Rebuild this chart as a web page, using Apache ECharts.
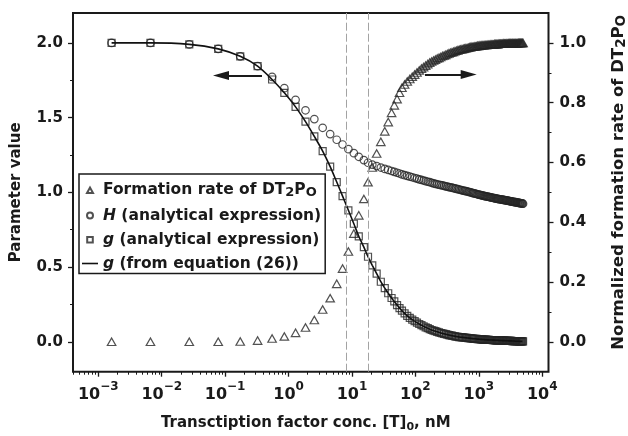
<!DOCTYPE html>
<html>
<head>
<meta charset="utf-8">
<script src="https://cdn.jsdelivr.net/npm/echarts@6/dist/echarts.min.js"></script>
<style>
  html, body { margin: 0; padding: 0; background: #ffffff; }
  #chart { width: 628px; height: 436px; }
</style>
</head>
<body>
<div id="chart"></div>
<script>
// Transcription factor concentration [T]0 (nM) for each computed point
const concentration = [
  0.00162, 0.00664, 0.0272, 0.0778, 0.173, 0.325, 0.550, 0.858, 1.29, 1.85,
  2.55, 3.45, 4.53, 5.75, 7.11, 8.78, 10.7, 12.8, 15.4, 17.9,
  20.9, 24.5, 28.5, 32.9, 37.3, 42.1, 46.5, 51.4, 56.2, 61.4,
  67.6, 74.4, 81.6, 89.2, 97.3, 105.9, 115.0, 124.6, 134.7, 145.3,
  156.5, 168.2, 180.5, 193.4, 206.9, 221.0, 235.7, 251.0, 267.1, 283.8,
  301.1, 319.2, 338.0, 357.4, 377.7, 398.6, 420.4, 442.9, 466.2, 490.3,
  515.2, 541.0, 567.6, 595.1, 623.4, 652.6, 682.7, 713.8, 745.7, 778.6,
  812.5, 847.3, 883.1, 919.9, 957.7, 996.5, 1036, 1077, 1119, 1162,
  1206, 1252, 1298, 1345, 1394, 1444, 1495, 1547, 1600, 1655,
  1711, 1768, 1826, 1885, 1946, 2008, 2072, 2137, 2203, 2270,
  2339, 2409, 2480, 2553, 2628, 2704, 2781, 2860, 2940, 3021,
  3105, 3189, 3275, 3363, 3452, 3543, 3636, 3730, 3825, 3923,
  4021, 4122, 4224, 4328, 4434, 4541, 4650, 4761, 4873, 4987
];

// Normalized formation rate of DT2PO (right axis)
const formationRate = [
  0, 0, 0, 0, 0.001, 0.004, 0.011, 0.018, 0.030, 0.048,
  0.073, 0.108, 0.146, 0.194, 0.245, 0.302, 0.362, 0.423, 0.478, 0.534,
  0.583, 0.630, 0.669, 0.704, 0.735, 0.766, 0.791, 0.812, 0.833, 0.850,
  0.861, 0.871, 0.879, 0.887, 0.894, 0.901, 0.908, 0.914, 0.919, 0.924,
  0.929, 0.934, 0.938, 0.941, 0.944, 0.948, 0.950, 0.953, 0.956, 0.958,
  0.960, 0.963, 0.965, 0.967, 0.969, 0.970, 0.972, 0.974, 0.975, 0.977,
  0.978, 0.979, 0.980, 0.981, 0.982, 0.983, 0.984, 0.985, 0.986, 0.987,
  0.987, 0.988, 0.988, 0.989, 0.990, 0.990, 0.991, 0.991, 0.992, 0.992,
  0.992, 0.993, 0.993, 0.993, 0.994, 0.994, 0.994, 0.995, 0.995, 0.995,
  0.995, 0.996, 0.996, 0.996, 0.996, 0.996, 0.997, 0.997, 0.997, 0.997,
  0.997, 0.998, 0.998, 0.998, 0.998, 0.998, 0.998, 0.998, 0.999, 0.999,
  0.999, 0.999, 0.999, 0.999, 0.999, 0.999, 0.999, 0.999, 0.999, 0.999,
  0.999, 0.999, 1.000, 1.000, 1.000, 1.000, 1.000, 1.000, 1.000, 1.000
];

// H from the analytical expression (left axis)
const hAnalytical = [
  2.000, 2.000, 1.990, 1.960, 1.910, 1.844, 1.773, 1.697, 1.619, 1.549,
  1.490, 1.432, 1.390, 1.352, 1.320, 1.289, 1.262, 1.238, 1.216, 1.198,
  1.186, 1.176, 1.166, 1.157, 1.150, 1.143, 1.137, 1.131, 1.126, 1.120,
  1.115, 1.110, 1.105, 1.101, 1.096, 1.092, 1.087, 1.083, 1.079, 1.075,
  1.071, 1.068, 1.064, 1.060, 1.057, 1.054, 1.051, 1.048, 1.046, 1.043,
  1.040, 1.038, 1.035, 1.033, 1.031, 1.028, 1.026, 1.023, 1.021, 1.019,
  1.017, 1.014, 1.012, 1.010, 1.008, 1.006, 1.004, 1.002, 1.000, 0.997,
  0.995, 0.993, 0.991, 0.989, 0.987, 0.985, 0.983, 0.982, 0.980, 0.978,
  0.976, 0.975, 0.973, 0.972, 0.971, 0.969, 0.968, 0.966, 0.965, 0.964,
  0.962, 0.961, 0.960, 0.958, 0.957, 0.956, 0.955, 0.954, 0.953, 0.952,
  0.951, 0.950, 0.949, 0.948, 0.947, 0.946, 0.945, 0.944, 0.943, 0.942,
  0.941, 0.940, 0.939, 0.938, 0.937, 0.936, 0.935, 0.934, 0.934, 0.933,
  0.932, 0.931, 0.930, 0.929, 0.928, 0.928, 0.927, 0.926, 0.925, 0.924
];

// g from the analytical expression (left axis); the equation (26) curve follows the same values
const gAnalytical = [
  2.000, 2.000, 1.990, 1.960, 1.910, 1.844, 1.755, 1.666, 1.572, 1.473,
  1.374, 1.276, 1.172, 1.069, 0.975, 0.880, 0.790, 0.706, 0.633, 0.569,
  0.512, 0.456, 0.402, 0.359, 0.325, 0.293, 0.270, 0.246, 0.226, 0.208,
  0.190, 0.174, 0.160, 0.148, 0.138, 0.128, 0.119, 0.111, 0.104, 0.097,
  0.091, 0.085, 0.079, 0.075, 0.071, 0.067, 0.063, 0.059, 0.056, 0.053,
  0.051, 0.048, 0.045, 0.043, 0.041, 0.039, 0.037, 0.035, 0.034, 0.032,
  0.031, 0.030, 0.029, 0.028, 0.027, 0.026, 0.025, 0.024, 0.023, 0.022,
  0.021, 0.020, 0.020, 0.019, 0.018, 0.018, 0.017, 0.016, 0.016, 0.015,
  0.015, 0.014, 0.014, 0.013, 0.013, 0.013, 0.012, 0.012, 0.012, 0.011,
  0.011, 0.011, 0.010, 0.010, 0.010, 0.010, 0.009, 0.009, 0.009, 0.009,
  0.008, 0.008, 0.008, 0.008, 0.007, 0.007, 0.007, 0.007, 0.006, 0.006,
  0.006, 0.006, 0.006, 0.005, 0.005, 0.005, 0.005, 0.005, 0.004, 0.004,
  0.004, 0.004, 0.004, 0.003, 0.003, 0.003, 0.003, 0.003, 0.003, 0.003
];

// Axis ranges and tick values
const xRange = [0.000399, 12560];
const xTickValues = [0.001, 0.01, 0.1, 1, 10, 100, 1000, 10000];
const leftRange = [-0.2, 2.2];
const leftTickValues = [0, 0.5, 1.0, 1.5, 2.0];
const leftMinorTickValues = [0.25, 0.75, 1.25, 1.75];
const rightRange = [-0.1, 1.1];
const rightTickValues = [0, 0.2, 0.4, 0.6, 0.8, 1.0];
const rightMinorTickValues = [0.1, 0.3, 0.5, 0.7, 0.9];

// Dashed guide concentrations and the two direction arrows ([conc, value] pairs;
// the second pair is where the arrow head is centred)
const guideConc = [8.0, 17.8];
const leftArrow = [[0.381, 1.782], [0.086, 1.782]];
const rightArrow = [[141.6, 0.894], [692, 0.894]];

// Minor log ticks at 2..9 x 10^n inside the visible range
const xMinorTickValues = [];
for (let n = -4; n <= 4; n++) {
  for (let k = 2; k <= 9; k++) {
    const v = k * Math.pow(10, n);
    if (v > xRange[0] && v < xRange[1]) xMinorTickValues.push(v);
  }
}

const FONT = 'DejaVu Sans';
const INK = '#1a1a1a';
const MARK = '#262626';

const pairs = (ys) => concentration.map((c, i) => [c, ys[i]]);

const hollow = { color: 'rgba(255,255,255,0)', borderColor: MARK, borderWidth: 1.2 };

// Legend glyphs sit centred in a 16x6 box so that every entry's text lines up
const ICON_BOX = 'M0,0M16,6';
const legendIcons = {
  triangle: 'path://' + ICON_BOX + 'M5,6L8,0.6L11,6Z',
  circle: 'path://' + ICON_BOX + 'M11,3A3,3,0,1,1,5,3A3,3,0,1,1,11,3Z',
  square: 'path://' + ICON_BOX + 'M5.2,0.4L10.8,0.4L10.8,6L5.2,6Z',
  line: 'path://' + ICON_BOX + 'M0,2.2L16,2.2L16,3.8L0,3.8Z'
};

const supLabel = (v) => {
  const e = Math.round(Math.log10(v));
  return '{b|10}{sup|' + (e < 0 ? '\u2212' + (-e) : String(e)) + '}';
};

const chart = echarts.init(document.getElementById('chart'), null, { renderer: 'canvas' });

chart.setOption({
  animation: false,
  backgroundColor: '#ffffff',
  grid: {
    left: 73, top: 13, right: 79.5, bottom: 64.3,
    containLabel: false, outerBoundsMode: 'none',
    show: true, borderColor: INK, borderWidth: 2, backgroundColor: 'rgba(0,0,0,0)'
  },
  legend: {
    orient: 'vertical',
    left: 79, top: 174,
    padding: [8, 4, 2, 2],
    itemGap: 8,
    itemWidth: 16, itemHeight: 6,
    borderColor: INK, borderWidth: 1.5,
    selectedMode: false,
    data: [
      { name: 'Formation rate of DT2PO', icon: legendIcons.triangle },
      { name: 'H (analytical expression)', icon: legendIcons.circle },
      { name: 'g (analytical expression)', icon: legendIcons.square },
      { name: 'g (from equation (26))', icon: legendIcons.line }
    ],
    formatter: (name) => {
      if (name === 'Formation rate of DT2PO') return '{t|Formation rate of DT}{sub|2}{t|P}{sub|O}';
      if (name === 'H (analytical expression)') return '{i|H}{t| (analytical expression)}';
      if (name === 'g (analytical expression)') return '{i|g}{t| (analytical expression)}';
      return '{i|g}{t| (from equation (26))}';
    },
    textStyle: {
      fontFamily: FONT, fontSize: 15.5, fontWeight: 'bold', color: INK,
      rich: {
        t: { fontFamily: FONT, fontSize: 15.5, fontWeight: 'bold', color: INK, lineHeight: 19 },
        i: { fontFamily: FONT, fontSize: 15.5, fontWeight: 'bold', fontStyle: 'italic', color: INK, lineHeight: 19 },
        sub: { fontFamily: FONT, fontSize: 13, fontWeight: 'bold', color: INK, verticalAlign: 'bottom' }
      }
    }
  },
  xAxis: [
    {
      type: 'log', min: xRange[0], max: xRange[1], position: 'bottom',
      axisLine: { show: false, onZero: false },
      splitLine: { show: false },
      axisTick: { show: true, customValues: xTickValues, length: 5, lineStyle: { color: INK, width: 1.3 } },
      axisLabel: {
        customValues: xTickValues, margin: 9,
        formatter: supLabel,
        rich: {
          b: { fontFamily: FONT, fontSize: 16, fontWeight: 'bold', color: INK, lineHeight: 22, verticalAlign: 'bottom' },
          sup: { fontFamily: FONT, fontSize: 12, fontWeight: 'bold', color: INK, verticalAlign: 'top' }
        }
      },
      name: 'Transctiption factor conc. [T]{sub|0}, nM',
      nameLocation: 'middle', nameGap: 41,
      nameTextStyle: {
        fontFamily: FONT, fontSize: 15, fontWeight: 'bold', color: INK, lineHeight: 20,
        padding: [0, 10, 0, 0],
        rich: { sub: { fontFamily: FONT, fontSize: 11, fontWeight: 'bold', color: INK, verticalAlign: 'bottom' } }
      }
    },
    {
      type: 'log', min: xRange[0], max: xRange[1], position: 'bottom',
      axisLine: { show: false, onZero: false },
      splitLine: { show: false },
      axisLabel: { show: false },
      axisTick: { show: true, customValues: xMinorTickValues, length: 3, lineStyle: { color: INK, width: 1 } }
    }
  ],
  yAxis: [
    {
      type: 'value', min: leftRange[0], max: leftRange[1], position: 'left',
      axisLine: { show: false, onZero: false }, splitLine: { show: false },
      axisTick: { show: true, customValues: leftTickValues, length: 5, lineStyle: { color: INK, width: 1.3 } },
      axisLabel: {
        customValues: leftTickValues, margin: 10,
        fontFamily: FONT, fontSize: 15, fontWeight: 'bold', color: INK,
        formatter: (v) => v.toFixed(1)
      },
      name: 'Parameter value', nameLocation: 'middle', nameGap: 49,
      nameTextStyle: { fontFamily: FONT, fontSize: 15, fontWeight: 'bold', color: INK }
    },
    {
      type: 'value', min: leftRange[0], max: leftRange[1], position: 'left',
      axisLine: { show: false, onZero: false }, splitLine: { show: false }, axisLabel: { show: false },
      axisTick: { show: true, customValues: leftMinorTickValues, length: 3, lineStyle: { color: INK, width: 1 } }
    },
    {
      type: 'value', min: rightRange[0], max: rightRange[1], position: 'right',
      axisLine: { show: false, onZero: false }, splitLine: { show: false },
      axisTick: { show: true, customValues: rightTickValues, length: 5, lineStyle: { color: INK, width: 1.3 } },
      axisLabel: {
        customValues: rightTickValues, margin: 11,
        fontFamily: FONT, fontSize: 15, fontWeight: 'bold', color: INK,
        formatter: (v) => v.toFixed(1)
      },
      name: 'Normalized formation rate of DT{sub|2}P{sub|O}', nameLocation: 'middle', nameGap: 60,
      nameTextStyle: {
        fontFamily: FONT, fontSize: 16.5, fontWeight: 'bold', color: INK, lineHeight: 20,
        padding: [0, 0, 0, 20],
        rich: { sub: { fontFamily: FONT, fontSize: 13.5, fontWeight: 'bold', color: INK, verticalAlign: 'bottom' } }
      }
    },
    {
      type: 'value', min: rightRange[0], max: rightRange[1], position: 'right',
      axisLine: { show: false, onZero: false }, splitLine: { show: false }, axisLabel: { show: false },
      axisTick: { show: true, customValues: rightMinorTickValues, length: 3, lineStyle: { color: INK, width: 1 } }
    }
  ],
  series: [
    {
      name: 'Formation rate of DT2PO', type: 'scatter', xAxisIndex: 0, yAxisIndex: 2,
      symbol: 'triangle', symbolSize: [8.5, 7.5], itemStyle: hollow, silent: true,
      data: pairs(formationRate),
      markLine: {
        silent: true, animation: false,
        label: { show: false },
        lineStyle: { color: INK, width: 2, type: 'solid' },
        data: [[
          { coord: rightArrow[0], symbol: 'none' },
          { coord: rightArrow[1], symbol: 'triangle', symbolSize: [9, 16] }
        ]]
      }
    },
    {
      name: 'H (analytical expression)', type: 'scatter', xAxisIndex: 0, yAxisIndex: 0,
      symbol: 'circle', symbolSize: 7.5, itemStyle: hollow, silent: true,
      data: pairs(hAnalytical),
      markLine: {
        silent: true, animation: false,
        label: { show: false },
        lineStyle: { color: INK, width: 2, type: 'solid' },
        data: [[
          { coord: leftArrow[0], symbol: 'none' },
          { coord: leftArrow[1], symbol: 'triangle', symbolSize: [9, 16] }
        ]]
      }
    },
    {
      name: 'g (analytical expression)', type: 'scatter', xAxisIndex: 0, yAxisIndex: 0,
      symbol: 'rect', symbolSize: 7, itemStyle: hollow, silent: true,
      data: pairs(gAnalytical)
    },
    {
      name: 'g (from equation (26))', type: 'line', xAxisIndex: 0, yAxisIndex: 0,
      symbol: 'none', smooth: 0.3, silent: true,
      lineStyle: { color: '#111111', width: 1.6 },
      itemStyle: { color: '#111111' },
      data: pairs(gAnalytical),
      markLine: {
        silent: true, animation: false, symbol: ['none', 'none'],
        label: { show: false },
        lineStyle: { color: '#a3a3a3', width: 1, type: [8, 3] },
        data: guideConc.map((v) => ({ xAxis: v }))
      }
    }
  ]
});
</script>
</body>
</html>
